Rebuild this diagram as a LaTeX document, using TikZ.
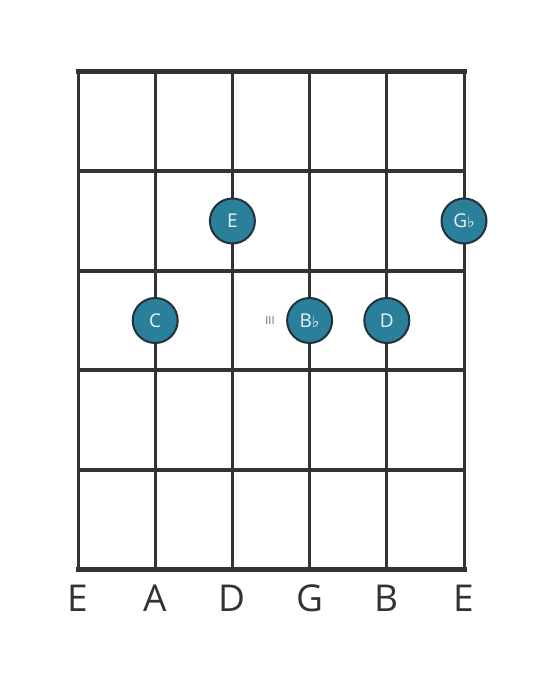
\documentclass[tikz,border=0pt]{standalone}
\usepackage{fontspec}
\setmainfont{Open Sans}
\newfontfamily\symfont{DejaVu Sans}
\newcommand{\flatsym}{{\symfont\fontsize{16}{16}\selectfont ♭}}
\definecolor{gridc}{HTML}{333333}
\definecolor{notefill}{HTML}{2A809A}
\definecolor{notedraw}{HTML}{23313A}
\definecolor{notetext}{HTML}{E6F4F7}
\definecolor{labelc}{HTML}{333333}
\tikzset{
  gridline/.style={draw=gridc, line width=3pt},
  nutline/.style={draw=gridc, line width=5pt},
  notedot/.style={circle, minimum size=45pt, inner sep=0pt, fill=notefill, draw=notedraw, line width=2pt, text=notetext, font=\fontsize{19}{19}\selectfont},
  strlabel/.style={text=labelc, font=\fontsize{37}{37}\selectfont, inner sep=0pt},
  fretnum/.style={text=gray!80!black, font=\fontsize{11}{11}\selectfont, inner sep=0pt}
}
\begin{document}
\begin{tikzpicture}[x=1pt, y=-1pt]
\useasboundingbox (0,0) rectangle (559,682);
% strings
\foreach \x in {78,155.2,232.4,309.6,386.8,464} {
  \draw[gridline] (\x,72) -- (\x,569);
}
% frets
\foreach \y in {171.4,270.8,370.2,469.6} {
  \draw[gridline, line width=4pt] (78,\y) -- (464,\y);
}
\draw[nutline] (75.5,72) -- (466.5,72);
\draw[nutline] (75.5,569) -- (466.5,569);
% fret number
\node[fretnum] (fn) at (270,321) {III};
% notes
\node[notedot] (nE) at (232.4,221) {E};
\node[notedot] (nGb) at (464,221) {G\flatsym};
\node[notedot] (nC) at (155.2,320.5) {C};
\node[notedot] (nBb) at (309.6,320.5) {B\flatsym};
\node[notedot] (nD) at (386.8,320.5) {D};
% string labels
\node[strlabel] (s1) at (78,598) {E};
\node[strlabel] (s2) at (155.2,598) {A};
\node[strlabel] (s3) at (232.4,598) {D};
\node[strlabel] (s4) at (309.6,598) {G};
\node[strlabel] (s5) at (386.8,598) {B};
\node[strlabel] (s6) at (464,598) {E};
\end{tikzpicture}
\end{document}
